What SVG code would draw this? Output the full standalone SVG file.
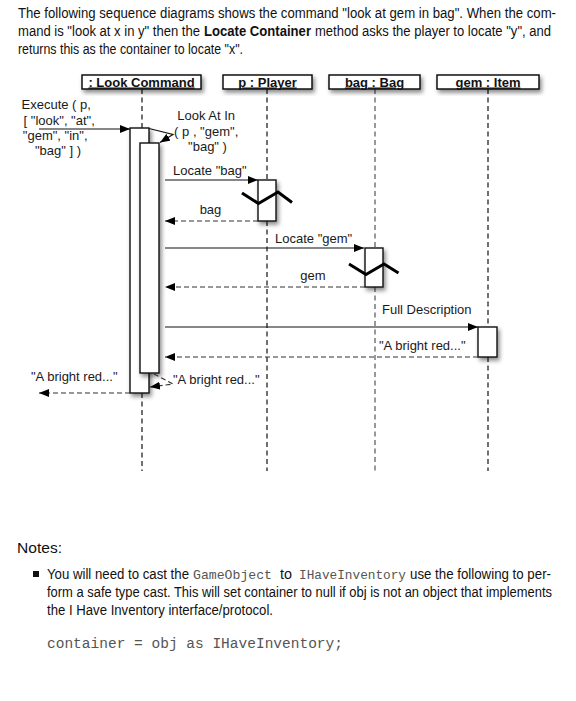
<svg xmlns="http://www.w3.org/2000/svg" width="576" height="701" viewBox="0 0 576 701">
<style>
  .body { font-family: "Liberation Sans Narrow", "Liberation Sans", Arial, sans-serif; font-size: 15.5px; fill: #111; }
  .mono { font-family: "Liberation Mono", "Courier New", monospace; fill: #555; }
  .lbl { font-family: "Liberation Sans", Arial, sans-serif; font-size: 13px; fill: #1a1a1a; }
  .hdr { font-family: "Liberation Sans", Arial, sans-serif; font-size: 13px; font-weight: bold; fill: #111; text-decoration: underline; text-anchor: middle; }
  .box { fill: #fff; stroke: #111; stroke-width: 1.5; filter: url(#sh); }
  .act { fill: #fff; stroke: #111; stroke-width: 1.4; filter: url(#sh); }
  .life { stroke: #111; stroke-width: 1.2; stroke-dasharray: 5 3.5; fill: none; }
  .msg { stroke: #111; stroke-width: 1.2; fill: none; marker-end: url(#ah); }
  .ret { stroke: #333; stroke-width: 1.2; stroke-dasharray: 5 3; fill: none; marker-end: url(#ah); }
  .zig { stroke: #000; stroke-width: 3; fill: none; stroke-linejoin: miter; }
</style>
<defs>
  <filter id="sh" x="-50%" y="-50%" width="200%" height="200%">
    <feDropShadow dx="2" dy="3" stdDeviation="2.2" flood-color="#000" flood-opacity="0.45"/>
  </filter>
  <marker id="ah" markerUnits="userSpaceOnUse" markerWidth="11" markerHeight="8" refX="10" refY="4" orient="auto">
    <path d="M0,0 L10,4 L0,8 z" fill="#000"/>
  </marker>
</defs>

<g id="intro" class="body">
  <text x="18" y="18" textLength="538" lengthAdjust="spacingAndGlyphs">The following sequence diagrams shows the command "look at gem in bag". When the com-</text>
  <text x="18" y="36" textLength="182" lengthAdjust="spacingAndGlyphs">mand is "look at x in y" then the</text>
  <text x="204" y="36" font-weight="bold" textLength="107" lengthAdjust="spacingAndGlyphs">Locate Container</text>
  <text x="315" y="36" textLength="236" lengthAdjust="spacingAndGlyphs">method asks the player to locate "y", and</text>
  <text x="18" y="54" textLength="225" lengthAdjust="spacingAndGlyphs">returns this as the container to locate "x".</text>
</g>

<g id="lifelines">
  <path class="life" d="M142,89 V128 M142,393 V471"/>
  <path class="life" d="M267,89 V180 M267,221 V471"/>
  <path class="life" style="stroke:#555" d="M375,89 V248 M375,287 V471"/>
  <path class="life" d="M488,89 V327 M488,357 V471"/>
</g>

<g id="look-command">
  <rect class="box" x="82" y="75" width="119" height="14"/>
  <text class="hdr" x="141.5" y="86.5">: Look Command</text>
  <rect class="act" x="130" y="128" width="19" height="265"/>
  <rect class="act" x="140" y="143" width="19" height="230"/>
</g>

<g id="player">
  <rect class="box" x="223" y="75" width="89" height="14"/>
  <text class="hdr" x="267.5" y="86.5">p : Player</text>
  <rect class="act" x="258" y="180" width="18" height="41"/>
  <polyline class="zig" points="242,193 258.5,203.5 278,192 292,202.5"/>
</g>

<g id="bag">
  <rect class="box" x="329" y="75" width="91" height="14"/>
  <text class="hdr" x="374.5" y="86.5">bag : Bag</text>
  <rect class="act" x="365" y="248" width="18" height="39"/>
  <polyline class="zig" points="349,264 366,274.5 384,264 398.5,273"/>
</g>

<g id="gem">
  <rect class="box" x="437" y="75" width="102" height="14"/>
  <text class="hdr" x="488" y="86.5">gem : Item</text>
  <rect class="act" x="478" y="327" width="19" height="30"/>
</g>

<g id="connectors">
  <line class="msg" x1="39" y1="129" x2="130" y2="129"/>
  <polyline class="msg" points="149,128.5 173,134.5 160,142.5"/>
  <line class="msg" x1="165" y1="180" x2="258" y2="180"/>
  <line class="ret" x1="258" y1="221" x2="165" y2="221"/>
  <line class="msg" x1="165" y1="248" x2="364" y2="248"/>
  <line class="ret" x1="365" y1="287" x2="165" y2="287"/>
  <line class="msg" x1="165" y1="327" x2="478" y2="327"/>
  <line class="ret" x1="478" y1="357" x2="165" y2="357"/>
  <polyline class="ret" points="154,374 173,384 150,387"/>
  <line class="ret" x1="130" y1="393" x2="39" y2="393"/>
</g>

<g id="labels" class="lbl">
  <text text-anchor="middle">
    <tspan x="58" y="109">Execute ( p,</tspan>
    <tspan x="61" y="124.5">[ "look", "at",</tspan>
    <tspan x="57" y="140">"gem", "in",</tspan>
    <tspan x="58" y="155">"bag" ] )</tspan>
  </text>
  <text text-anchor="middle">
    <tspan x="208" y="120">Look At In</tspan>
    <tspan x="208" y="135.5">( p , "gem",</tspan>
    <tspan x="207.5" y="151">"bag" )</tspan>
  </text>
  <text x="173" y="174.5">Locate "bag"</text>
  <text x="210.5" y="214" text-anchor="middle">bag</text>
  <text x="275" y="243">Locate "gem"</text>
  <text x="313" y="280" text-anchor="middle">gem</text>
  <text x="382" y="313.5">Full Description</text>
  <text x="379" y="349.5">"A bright red..."</text>
  <text x="173" y="383.5">"A bright red..."</text>
  <text x="31" y="381">"A bright red..."</text>
</g>

<g id="notes" class="body">
  <text x="17" y="553" textLength="45" lengthAdjust="spacingAndGlyphs">Notes:</text>
  <rect x="33" y="571" width="6" height="6" fill="#111"/>
  <text x="47" y="579" textLength="142" lengthAdjust="spacingAndGlyphs">You will need to cast the</text>
  <text class="mono" x="193" y="579" font-size="13" textLength="79" lengthAdjust="spacingAndGlyphs">GameObject</text>
  <text x="280" y="579" textLength="12" lengthAdjust="spacingAndGlyphs">to</text>
  <text class="mono" x="299" y="579" font-size="13" textLength="107" lengthAdjust="spacingAndGlyphs">IHaveInventory</text>
  <text x="410" y="579" textLength="141" lengthAdjust="spacingAndGlyphs">use the following to per-</text>
  <text x="47" y="597" textLength="505" lengthAdjust="spacingAndGlyphs">form a safe type cast. This will set container to null if obj is not an object that implements</text>
  <text x="47" y="615" textLength="226" lengthAdjust="spacingAndGlyphs">the I Have Inventory interface/protocol.</text>
  <text class="mono" x="47" y="648" font-size="14.5" textLength="296" lengthAdjust="spacingAndGlyphs">container = obj as IHaveInventory;</text>
</g>
</svg>
